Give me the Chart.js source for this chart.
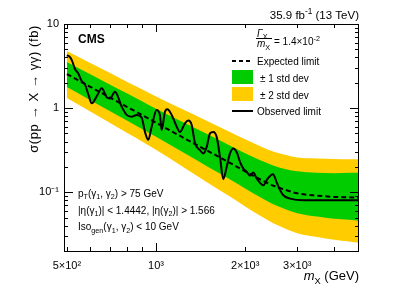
<!DOCTYPE html>
<html>
<head>
<meta charset="utf-8">
<script src="https://cdn.jsdelivr.net/npm/chart.js@4/dist/chart.umd.min.js"></script>
<style>
  body { margin: 0; background: #fff; }
  canvas { display: block; }
</style>
</head>
<body>
<canvas id="limitChart" width="399" height="286"></canvas>
<script>
// expected limit and bands (fb) vs mass (GeV)
const massExp = [500, 600, 700, 800, 900, 1000, 1250, 1500, 1750, 2000, 2250, 2500, 2750, 3000, 3500, 4000, 4500, 4850];
const expected = [2.54, 1.79, 1.33, 1.03, 0.823, 0.670, 0.436, 0.308, 0.230, 0.177, 0.142, 0.119, 0.106, 0.097, 0.091, 0.088, 0.087, 0.086];
const plus2 = [4.78, 3.44, 2.61, 2.05, 1.66, 1.37, 0.942, 0.693, 0.536, 0.425, 0.352, 0.303, 0.277, 0.259, 0.252, 0.249, 0.247, 0.246];
const plus1 = [3.53, 2.52, 1.90, 1.49, 1.20, 0.985, 0.667, 0.484, 0.370, 0.290, 0.240, 0.207, 0.188, 0.177, 0.170, 0.168, 0.170, 0.170];
const minus1 = [1.78, 1.24, 0.918, 0.708, 0.562, 0.456, 0.290, 0.200, 0.147, 0.111, 0.0869, 0.0714, 0.0624, 0.0564, 0.0513, 0.0485, 0.0470, 0.0458];
const minus2 = [1.32, 0.91, 0.665, 0.505, 0.398, 0.320, 0.194, 0.129, 0.092, 0.0678, 0.0524, 0.0425, 0.0366, 0.0326, 0.0293, 0.0272, 0.0259, 0.0250];

// observed limit
const massObs = [500, 510, 520, 533, 546, 561, 576, 591, 607, 631, 656, 681, 699, 727, 766, 796, 828, 861, 895, 918, 942, 967,
  1005, 1031, 1045, 1072, 1092, 1130, 1175, 1205, 1253, 1286, 1320, 1355, 1408, 1445, 1484, 1522, 1562, 1603, 1645, 1688,
  1733, 1778, 1824, 1874, 1923, 1973, 2025, 2078, 2132, 2188, 2305, 2390, 2485, 2563, 2624, 2692, 2836, 3140, 3873, 4850];
const observed = [4.25, 4.1, 3.7, 2.9, 2.6, 2.1, 1.9, 1.45, 1.14, 1.39, 1.72, 1.35, 1.3, 1.56, 1.04, 0.83, 0.79, 0.83, 0.77, 0.52, 0.42, 0.60,
  0.95, 0.83, 0.55, 0.90, 0.97, 0.83, 0.60, 0.52, 0.66, 0.71, 0.63, 0.38, 0.316, 0.289, 0.346, 0.50, 0.52, 0.455, 0.263, 0.143,
  0.20, 0.289, 0.331, 0.299, 0.228, 0.191, 0.175, 0.157, 0.171, 0.146, 0.121, 0.147, 0.164, 0.128, 0.106, 0.092, 0.084, 0.080, 0.080, 0.080];

// axis ticks
const xTickVals = [500, 1000, 2000, 3000];
const xTickLabels = ["5×10²", "10³", "2×10³", "3×10³"];
const yTickVals = [0.1, 1, 10];
const yTickLabels = ["10⁻¹", "1", "10"];

const GREEN = "rgb(0,204,0)";
const YELLOW = "rgb(255,204,0)";
const FONT = "'Liberation Sans', Arial, Helvetica, sans-serif";

function pts(xs, ys) { return xs.map((x, i) => ({ x: x, y: ys[i] })); }

// text with sub/superscripts, kept as real text
function drawRich(ctx, parts, x, y, size, align) {
  const segs = parts.map(([t, k]) => {
    const small = (k === "sub" || k === "sup");
    const s = small ? size * 0.72 : size;
    const style = k === "i" ? "italic " : (k === "b" ? "bold " : "");
    ctx.font = style + s + "px " + FONT;
    return { t, k, s, style, w: ctx.measureText(t).width };
  });
  const total = segs.reduce((a, g) => a + g.w, 0);
  let cx = align === "right" ? x - total : (align === "center" ? x - total / 2 : x);
  ctx.textAlign = "left";
  ctx.textBaseline = "alphabetic";
  segs.forEach(g => {
    ctx.font = g.style + g.s + "px " + FONT;
    const dy = g.k === "sub" ? size * 0.28 : (g.k === "sup" ? -size * 0.42 : 0);
    ctx.fillText(g.t, cx, y + dy);
    cx += g.w;
  });
}

const decorations = {
  id: "decorations",
  afterDraw(chart) {
    const ctx = chart.ctx;
    const a = chart.chartArea;
    const xs = chart.scales.x, ys = chart.scales.y;
    ctx.save();
    ctx.fillStyle = "#000";
    ctx.strokeStyle = "#000";

    // ticks, pointing inwards on all four sides
    ctx.lineWidth = 1;
    ctx.beginPath();
    const xMinor = [500, 600, 700, 800, 900, 2000, 3000, 4000];
    xMinor.concat([1000]).forEach(v => {
      const len = v === 1000 ? 8 : 4;
      const px = Math.round(xs.getPixelForValue(v)) + 0.5;
      ctx.moveTo(px, a.bottom); ctx.lineTo(px, a.bottom - len);
      ctx.moveTo(px, a.top); ctx.lineTo(px, a.top + len);
    });
    for (let d = 0.01; d < 10; d *= 10) {
      for (let k = 1; k <= 9; k++) {
        const v = d * k;
        if (v < 0.02 - 1e-9 || v > 10 + 1e-9) continue;
        const len = k === 1 ? 9 : 4;
        const py = Math.round(ys.getPixelForValue(v)) + 0.5;
        ctx.moveTo(a.left, py); ctx.lineTo(a.left + len, py);
        ctx.moveTo(a.right, py); ctx.lineTo(a.right - len, py);
      }
    }
    ctx.stroke();

    // frame
    ctx.lineWidth = 1;
    ctx.strokeRect(a.left + 0.5, a.top + 0.5, a.right - a.left - 1, a.bottom - a.top);

    // titles
    ctx.font = "bold 12px " + FONT;
    ctx.textAlign = "left";
    ctx.fillText("CMS", 78, 43);
    drawRich(ctx, [["35.9 fb", ""], ["-1", "sup"], [" (13 TeV)", ""]], 359, 19, 11.5, "right");
    drawRich(ctx, [["m", "i"], ["X", "sub"], [" (GeV)", ""]], 359, 280, 13, "right");

    ctx.save();
    ctx.translate(37.5, 25);
    ctx.rotate(-Math.PI / 2);
    ctx.letterSpacing = "0.6px";
    drawRich(ctx, [["σ(pp → X → γγ) (fb)", ""]], 0, 0, 13, "right");
    ctx.letterSpacing = "0px";
    ctx.restore();

    // legend
    drawRich(ctx, [["Γ", "i"], ["X", "sub"]], 257, 36.5, 10, "left");
    ctx.beginPath(); ctx.moveTo(256, 38.5); ctx.lineTo(272, 38.5); ctx.stroke();
    drawRich(ctx, [["m", "i"], ["X", "sub"]], 257, 47, 10, "left");
    drawRich(ctx, [["= 1.4×10", ""], ["-2", "sup"]], 274, 45, 10, "left");

    ctx.lineWidth = 2;
    ctx.setLineDash([4, 3]);
    ctx.beginPath(); ctx.moveTo(232, 61); ctx.lineTo(252, 61); ctx.stroke();
    ctx.setLineDash([]);
    ctx.fillStyle = GREEN; ctx.fillRect(232, 70, 21, 14);
    ctx.fillStyle = YELLOW; ctx.fillRect(232, 87, 21, 14);
    ctx.fillStyle = "#000";
    ctx.beginPath(); ctx.moveTo(232, 111); ctx.lineTo(253, 111); ctx.stroke();
    drawRich(ctx, [["Expected limit", ""]], 257, 64.5, 10, "left");
    drawRich(ctx, [["± 1 std dev", ""]], 260, 81.5, 10, "left");
    drawRich(ctx, [["± 2 std dev", ""]], 260, 98.5, 10, "left");
    drawRich(ctx, [["Observed limit", ""]], 257, 114.5, 10, "left");

    // selection text
    drawRich(ctx, [["p", ""], ["T", "sub"], ["(γ", ""], ["1", "sub"], [", γ", ""], ["2", "sub"], [") > 75 GeV", ""]], 78, 196.5, 10, "left");
    drawRich(ctx, [["|η(γ", ""], ["1", "sub"], [")| < 1.4442, |η(γ", ""], ["2", "sub"], [")| > 1.566", ""]], 78, 213.5, 10, "left");
    drawRich(ctx, [["Iso", ""], ["gen", "sub"], ["(γ", ""], ["1", "sub"], [", γ", ""], ["2", "sub"], [") < 10 GeV", ""]], 78, 230, 10, "left");
    ctx.restore();
  }
};

const common = { pointRadius: 0, borderWidth: 0, cubicInterpolationMode: "monotone" };

new Chart(document.getElementById("limitChart").getContext("2d"), {
  type: "line",
  data: {
    datasets: [
      { ...common, data: pts(massExp, plus2), fill: "+1", backgroundColor: YELLOW, borderColor: YELLOW, order: 5 },
      { ...common, data: pts(massExp, minus2), fill: false, borderColor: YELLOW, order: 5 },
      { ...common, data: pts(massExp, plus1), fill: "+1", backgroundColor: GREEN, borderColor: GREEN, order: 4 },
      { ...common, data: pts(massExp, minus1), fill: false, borderColor: GREEN, order: 4 },
      { ...common, data: pts(massExp, expected), fill: false, borderColor: "#000", borderWidth: 2, borderDash: [5, 3], order: 2 },
      { ...common, data: pts(massObs, observed), fill: false, borderColor: "#000", borderWidth: 2, order: 1 }
    ]
  },
  options: {
    responsive: false,
    animation: false,
    devicePixelRatio: 1,
    layout: { padding: { top: 24, right: 40, left: 0, bottom: 0 } },
    plugins: { legend: { display: false }, tooltip: { enabled: false } },
    scales: {
      x: {
        type: "logarithmic", min: 489, max: 4850,
        grid: { display: false, drawTicks: false }, border: { display: false },
        afterBuildTicks: s => { s.ticks = xTickVals.map(v => ({ value: v })); },
        afterFit: s => { s.height = 35; },
        ticks: { autoSkip: false, maxRotation: 0, padding: 8, color: "#000", font: { family: FONT, size: 11 },
                 callback: (v, i) => xTickLabels[i] }
      },
      y: {
        type: "logarithmic", min: 0.02, max: 10,
        grid: { display: false, drawTicks: false }, border: { display: false },
        afterBuildTicks: s => { s.ticks = yTickVals.map(v => ({ value: v })); },
        afterFit: s => { s.width = 64; },
        ticks: { autoSkip: false, padding: 5, color: "#000", font: { family: FONT, size: 11 },
                 callback: (v, i) => yTickLabels[i] }
      }
    }
  },
  plugins: [decorations]
});
</script>
</body>
</html>
